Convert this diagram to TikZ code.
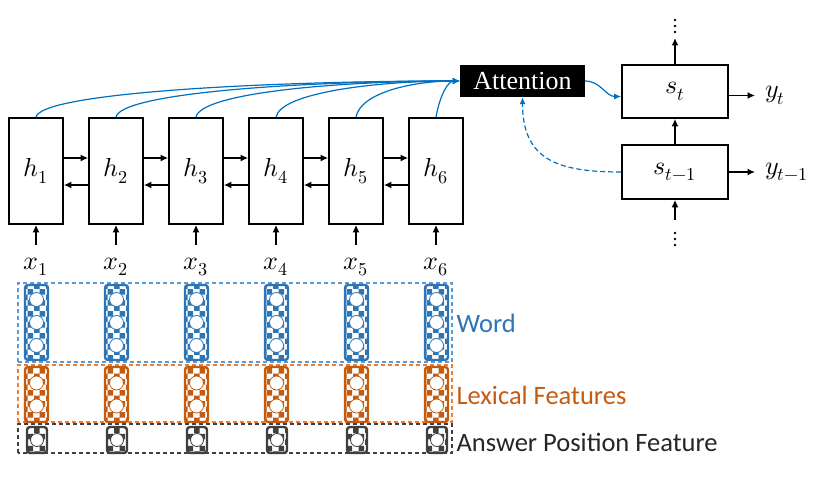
\documentclass[tikz,border=0pt]{standalone}
\usepackage{fontspec}
\usepackage{unicode-math}
\setmathfont{Latin Modern Math}
\usepackage{tikz}
\usetikzlibrary{patterns,arrows.meta}
\newfontfamily\labelfont{Carlito}
\newfontfamily\attfont{Liberation Serif}
\definecolor{wordblue}{RGB}{46,117,182}
\definecolor{wordline}{RGB}{91,155,213}
\definecolor{lexorange}{RGB}{197,90,17}
\definecolor{lexline}{RGB}{237,125,49}
\definecolor{posgray}{RGB}{64,64,64}
\definecolor{attblue}{RGB}{0,112,192}
\newcommand\mathsize{\fontsize{26}{30}\selectfont}

\begin{document}
\begin{tikzpicture}[x=1pt,y=1pt,
  hbox/.style={draw,line width=1.6pt,minimum width=54pt,minimum height=106pt,inner sep=0pt,font=\mathsize},
  sbox/.style={draw,line width=1.6pt,minimum width=106pt,minimum height=53pt,inner sep=0pt,font=\mathsize},
  arr/.style={line width=1.5pt,-{Latex[length=7.5pt,width=7pt]}},
  attarr/.style={attblue,line width=1.2pt,-{Latex[length=7pt,width=6pt]}},
  vec/.style={rounded corners=3pt,line width=2.4pt,minimum width=23pt,inner sep=0pt,pattern=checkerboard},
  cell/.style={fill=white,line width=0.8pt},
  group/.style={dash pattern=on 4pt off 3pt,line width=1.1pt},
  side/.style={anchor=west,font=\labelfont\fontsize{26.5}{30}\selectfont}]
\useasboundingbox (0,0) rectangle (830,491);
\fill[white] (0,0) rectangle (830,491);
\foreach \i in {1,...,6}{
  \node[hbox] (h\i) at ({36+80*(\i-1)},320) {$h_{\i}$};
  \node[font=\mathsize,inner sep=0pt] (x\i) at ({36+80*(\i-1)},224) {$x_{\i}$};
  \draw[arr] ([yshift=13pt]x\i.north) -- (h\i.south);
}
\foreach \i/\j in {1/2,2/3,3/4,4/5,5/6}{
  \draw[arr] ([yshift=13pt]h\i.east) -- ([yshift=13pt]h\j.west);
  \draw[arr] ([yshift=-14pt]h\j.west) -- ([yshift=-14pt]h\i.east);
}
\node[fill=black,text=white,minimum width=125pt,minimum height=32pt,inner sep=0pt,
  font=\attfont\fontsize{26}{30}\selectfont] (att) at (522.5,410) {Attention};
\foreach \i in {1,...,6}{
  \pgfmathsetmacro\indist{0.45*(424-80*(\i-1))}
  \draw[attarr] (h\i.north) to[out=80,in=180,out distance=25pt,in distance=\indist pt] (att.west);
}
\node[sbox] (st) at (675,399.5) {$s_t$};
\node[sbox,minimum height=54pt] (st1) at (675,319) {$s_{t-1}$};
\draw[arr] (st1.north) -- (st.south);
\coordinate (top) at (675,453);
\draw[arr] (st.north) -- (top);
\foreach \y in {459,465,471} \fill (675,\y) circle (1.3pt);
\coordinate (bot) at (675,271);
\draw[arr] (bot) -- (st1.south);
\foreach \y in {246,252,258} \fill (675,\y) circle (1.3pt);
\node[font=\mathsize,anchor=west,inner xsep=10pt] (yt) at (755,395.5) {$y_t$};
\node[font=\mathsize,anchor=west,inner xsep=10pt] (yt1) at (755,319) {$y_{t-1}$};
\draw[arr] (st.east |- yt.west) -- (yt.west);
\draw[arr] (st1.east) -- (yt1.west);
\draw[attarr] (att.east) to[out=0,in=180] ([yshift=-5pt]st.west);
\draw[attarr,dash pattern=on 5pt off 3pt] (st1.west) to[out=180,in=-90,looseness=1.3] (att.south);
\draw[group,wordline] (18,129) rectangle (452,208);
\draw[group,lexline] (18,69) rectangle (452,126);
\draw[group,posgray] (18,38) rectangle (452,67);
\foreach \i in {1,...,6}{
  \node[vec,draw=wordblue,pattern color=wordblue,minimum height=75pt] (w\i) at ({36.5+80*(\i-1)},168.5) {};
  \foreach \dy in {-23,0,23} \draw[draw=wordblue,cell] ([yshift=\dy pt]w\i.center) circle (7pt);
  \node[vec,draw=lexorange,pattern color=lexorange,minimum height=55pt] (l\i) at ({36.5+80*(\i-1)},96.5) {};
  \foreach \dy in {-11.5,11.5} \draw[draw=lexorange,cell] ([yshift=\dy pt]l\i.center) circle (7pt);
  \node[vec,draw=posgray,pattern color=posgray,minimum width=20pt,minimum height=26pt] (a\i) at ({37+80*(\i-1)},51) {};
  \draw[draw=posgray,cell] (a\i.center) circle (6.5pt);
}
\node[side,text=wordblue] (word) at (453,168) {Word};
\node[side,text=lexorange] (lex) at (453,96) {Lexical Features};
\node[side,text=black!85] (pos) at (453,49) {Answer Position Feature};
\end{tikzpicture}
\end{document}
